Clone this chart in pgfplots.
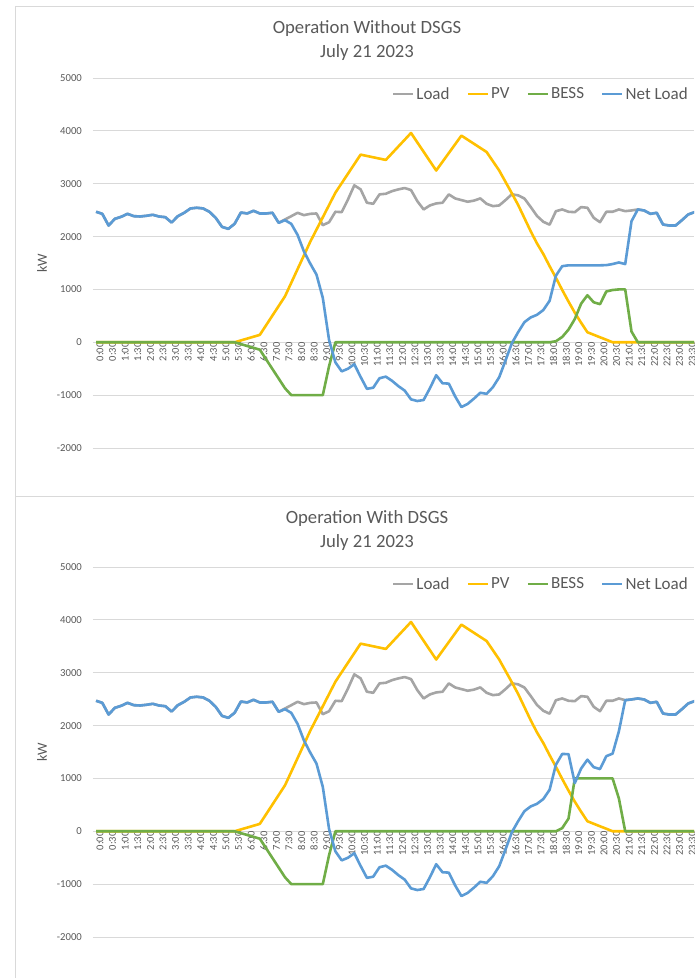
\documentclass[border=0pt]{standalone}
\usepackage{fontspec}
\setmainfont{Carlito}
\usepackage{pgfplots}
\usepackage{pgfplotstable}
\pgfplotsset{compat=1.18}
\definecolor{cLoad}{HTML}{A5A5A5}
\definecolor{cPV}{HTML}{FFC000}
\definecolor{cBESS}{HTML}{70AD47}
\definecolor{cNet}{HTML}{5B9BD5}
\definecolor{cGrid}{HTML}{D9D9D9}
\definecolor{cText}{HTML}{595959}

\pgfplotstableread{
i load pv bess net
0 2469 0 0 2469
1 2430 0 0 2430
2 2209 0 0 2209
3 2336 0 0 2336
4 2374 0 0 2374
5 2430 0 0 2430
6 2386 0 0 2386
7 2380 0 0 2380
8 2393 0 0 2393
9 2412 0 0 2412
10 2380 0 0 2380
11 2367 0 0 2367
12 2266 0 0 2266
13 2386 0 0 2386
14 2450 0 0 2450
15 2532 0 0 2532
16 2545 0 0 2545
17 2532 0 0 2532
18 2469 0 0 2469
19 2355 0 0 2355
20 2184 0 0 2184
21 2146 0 0 2146
22 2241 0 0 2241
23 2455 35 -35 2455
24 2437 70 -70 2437
25 2488 105 -105 2488
26 2437 140 -140 2437
27 2437 322 -322 2437
28 2450 505 -505 2450
29 2260 687 -687 2260
30 2323 870 -870 2310
31 2386 1127 -1000 2240
32 2450 1385 -1000 2030
33 2405 1642 -1000 1720
34 2430 1900 -1000 1490
35 2437 2132 -1000 1280
36 2215 2365 -1000 840
37 2272 2597 -450 40
38 2469 2830 0 -380
39 2462 3010 0 -550
40 2703 3190 0 -500
41 2969 3370 0 -415
42 2893 3550 0 -655
43 2640 3525 0 -880
44 2620 3500 0 -860
45 2798 3475 0 -680
46 2810 3450 0 -650
47 2860 3577 0 -730
48 2893 3705 0 -830
49 2918 3832 0 -914
50 2880 3960 0 -1080
51 2671 3782 0 -1111
52 2513 3605 0 -1092
53 2589 3427 0 -870
54 2627 3250 0 -623
55 2640 3415 0 -775
56 2798 3580 0 -782
57 2722 3745 0 -1023
58 2690 3910 0 -1225
59 2659 3832 0 -1165
60 2680 3755 0 -1065
61 2722 3677 0 -955
62 2620 3600 0 -975
63 2576 3425 0 -849
64 2589 3250 0 -661
65 2690 3035 0 -345
66 2800 2820 0 -20
67 2780 2600 0 190
68 2720 2350 0 380
69 2560 2100 0 470
70 2390 1870 0 520
71 2280 1670 0 610
72 2225 1440 0 785
73 2480 1220 20 1260
74 2513 990 100 1440
75 2469 770 240 1456
76 2462 560 440 1456
77 2557 370 730 1456
78 2545 190 890 1456
79 2355 142 757 1456
80 2272 95 721 1456
81 2469 48 961 1460
82 2469 0 989 1480
83 2513 0 1000 1510
84 2481 0 1000 1480
85 2494 0 204 2290
86 2513 0 0 2513
87 2494 0 0 2494
88 2430 0 0 2430
89 2450 0 0 2450
90 2228 0 0 2228
91 2209 0 0 2209
92 2209 0 0 2209
93 2310 0 0 2310
94 2418 0 0 2418
95 2462 0 0 2462
}\topdata

\pgfplotstableread{
i load pv bess net
0 2469 0 0 2469
1 2430 0 0 2430
2 2209 0 0 2209
3 2336 0 0 2336
4 2374 0 0 2374
5 2430 0 0 2430
6 2386 0 0 2386
7 2380 0 0 2380
8 2393 0 0 2393
9 2412 0 0 2412
10 2380 0 0 2380
11 2367 0 0 2367
12 2266 0 0 2266
13 2386 0 0 2386
14 2450 0 0 2450
15 2532 0 0 2532
16 2545 0 0 2545
17 2532 0 0 2532
18 2469 0 0 2469
19 2355 0 0 2355
20 2184 0 0 2184
21 2146 0 0 2146
22 2241 0 0 2241
23 2455 35 -35 2455
24 2437 70 -70 2437
25 2488 105 -105 2488
26 2437 140 -140 2437
27 2437 322 -322 2437
28 2450 505 -505 2450
29 2260 687 -687 2260
30 2323 870 -870 2310
31 2386 1127 -1000 2240
32 2450 1385 -1000 2030
33 2405 1642 -1000 1720
34 2430 1900 -1000 1490
35 2437 2132 -1000 1280
36 2215 2365 -1000 840
37 2272 2597 -450 40
38 2469 2830 0 -380
39 2462 3010 0 -550
40 2703 3190 0 -500
41 2969 3370 0 -415
42 2893 3550 0 -655
43 2640 3525 0 -880
44 2620 3500 0 -860
45 2798 3475 0 -680
46 2810 3450 0 -650
47 2860 3577 0 -730
48 2893 3705 0 -830
49 2918 3832 0 -914
50 2880 3960 0 -1080
51 2671 3782 0 -1111
52 2513 3605 0 -1092
53 2589 3427 0 -870
54 2627 3250 0 -623
55 2640 3415 0 -775
56 2798 3580 0 -782
57 2722 3745 0 -1023
58 2690 3910 0 -1225
59 2659 3832 0 -1165
60 2680 3755 0 -1065
61 2722 3677 0 -955
62 2620 3600 0 -975
63 2576 3425 0 -849
64 2589 3250 0 -661
65 2690 3035 0 -345
66 2800 2820 0 -20
67 2780 2600 0 190
68 2720 2350 0 380
69 2560 2100 0 470
70 2390 1870 0 520
71 2280 1670 0 610
72 2225 1440 0 785
73 2480 1220 0 1260
74 2513 990 60 1463
75 2469 770 240 1459
76 2462 560 1000 912
77 2557 370 1000 1187
78 2545 190 1000 1355
79 2355 142 1000 1213
80 2272 95 1000 1177
81 2469 48 1000 1421
82 2469 0 1000 1469
83 2513 0 620 1893
84 2481 0 0 2481
85 2494 0 0 2494
86 2513 0 0 2513
87 2494 0 0 2494
88 2430 0 0 2430
89 2450 0 0 2450
90 2228 0 0 2228
91 2209 0 0 2209
92 2209 0 0 2209
93 2310 0 0 2310
94 2418 0 0 2418
95 2462 0 0 2462
}\botdata

\pgfplotsset{
  excelchart/.style={
    scale only axis,
    width=601.15pt,
    height=370pt,
    xmin=-0.5, xmax=94.92,
    ymin=-2000, ymax=5000,
    axis x line*=middle,
    axis y line*=left,
    x axis line style={draw=none},
    y axis line style={draw=none},
    major tick length=0pt,
    ytick={-2000,-1000,0,1000,2000,3000,4000,5000},
    yticklabels={-2000,-1000,0,1000,2000,3000,4000,5000},
    xtick={0,2,...,94},
    xticklabels={0:00,0:30,1:00,1:30,2:00,2:30,3:00,3:30,4:00,4:30,5:00,5:30,6:00,6:30,7:00,7:30,8:00,8:30,9:00,9:30,10:00,10:30,11:00,11:30,12:00,12:30,13:00,13:30,14:00,14:30,15:00,15:30,16:00,16:30,17:00,17:30,18:00,18:30,19:00,19:30,20:00,20:30,21:00,21:30,22:00,22:30,23:00,23:30},
    ymajorgrids,
    grid style={cGrid, line width=0.9pt},
    yticklabel style={font=\fontsize{10.7}{12}\selectfont, text=cText, anchor=east, inner sep=0pt, xshift=-10.8pt},
    xticklabel style={font=\fontsize{10.5}{12}\selectfont, text=cText, rotate=90, anchor=east, inner sep=0pt, yshift=-4pt},
    ylabel={\fontsize{14}{16}\selectfont kW},
    every axis y label/.append style={at={(axis description cs:-0.0846,0.5)}, anchor=center},
    ylabel style={text=cText},
    legend columns=-1,
    legend cell align=left,
    legend image code/.code={\draw[##1, line width=2.6pt] (0pt,0pt) -- (20pt,0pt);},
    legend style={draw=none, fill=none, inner xsep=0pt, inner ysep=0pt,
      font=\fontsize{17}{19}\selectfont, text=cText,
      nodes={inner sep=2pt},
      /tikz/every even column/.append style={column sep=15pt}},
    every axis plot/.append style={line width=2.6pt, line join=round, no marks},
  }
}

\begin{document}
\begin{tikzpicture}[x=1pt,y=1pt]
\path[use as bounding box] (0,0) rectangle (694,978);
\draw[cGrid, line width=0.9pt] (15,972) -- (694,972);
\draw[cGrid, line width=0.9pt] (15,482) -- (694,482);
\draw[cGrid, line width=0.9pt] (15,972) -- (15,0);
\node[font=\fontsize{18.7}{22}\selectfont, text=cText] at (367,949) {Operation Without DSGS};
\node[font=\fontsize{18.7}{22}\selectfont, text=cText] at (367,925) {July 21 2023};
\node[font=\fontsize{18.7}{22}\selectfont, text=cText] at (367,459) {Operation With DSGS};
\node[font=\fontsize{18.7}{22}\selectfont, text=cText] at (367,435) {July 21 2023};

\begin{axis}[excelchart, at={(92.85pt,530pt)}, anchor=south west,
  legend style={at={(axis description cs:0.9933,0.9568)}, anchor=east}]
  \addplot[cLoad] table[x=i,y=load]{\topdata}; \addlegendentry{Load}
  \addplot[cPV] table[x=i,y=pv]{\topdata}; \addlegendentry{PV}
  \addplot[cBESS] table[x=i,y=bess]{\topdata}; \addlegendentry{BESS}
  \addplot[cNet] table[x=i,y=net]{\topdata}; \addlegendentry{Net Load}
\end{axis}

\begin{axis}[excelchart, at={(92.85pt,41pt)}, anchor=south west,
  legend style={at={(axis description cs:0.9933,0.954)}, anchor=east}]
  \addplot[cLoad] table[x=i,y=load]{\botdata}; \addlegendentry{Load}
  \addplot[cPV] table[x=i,y=pv]{\botdata}; \addlegendentry{PV}
  \addplot[cBESS] table[x=i,y=bess]{\botdata}; \addlegendentry{BESS}
  \addplot[cNet] table[x=i,y=net]{\botdata}; \addlegendentry{Net Load}
\end{axis}
\end{tikzpicture}
\end{document}
